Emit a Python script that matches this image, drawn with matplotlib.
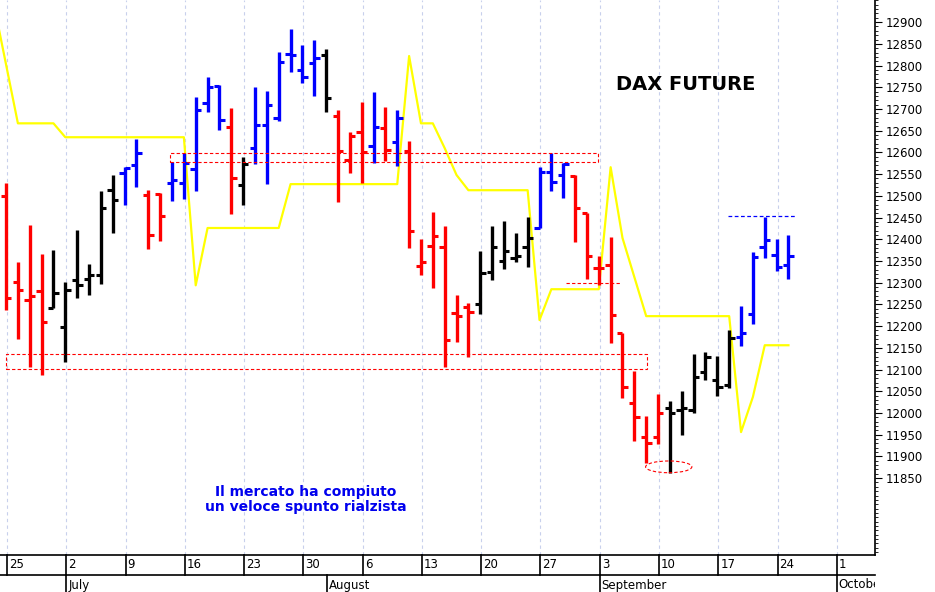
import numpy as np
import matplotlib
matplotlib.use("Agg")
import matplotlib.pyplot as plt
from matplotlib.patches import Rectangle, Ellipse
from matplotlib.transforms import Bbox

# ---------- data (trading day index 1 = 25 June) ----------
highs = [12529, 12347, 12433, 12366, 12375, 12301, 12421, 12343, 12511, 12548,
         12566, 12631, 12513, 12506, 12578, 12598, 12727, 12773, 12755, 12702,
         12589, 12750, 12741, 12831, 12884, 12847, 12859, 12838, 12697, 12647,
         12716, 12739, 12704, 12697, 12626, 12400, 12462, 12430, 12271, 12253,
         12373, 12430, 12442, 12414, 12451, 12566, 12598, 12575, 12548, 12460,
         12361, 12405, 12184, 12096, 11993, 12043, 12027, 12050, 12136, 12140,
         12131, 12191, 12246, 12370, 12451, 12400, 12410]
lows = [12237, 12170, 12106, 12087, 12241, 12117, 12264, 12271, 12297, 12414,
        12479, 12520, 12377, 12396, 12488, 12492, 12511, 12693, 12651, 12458,
        12479, 12573, 12527, 12672, 12785, 12760, 12730, 12693, 12486, 12552,
        12529, 12575, 12580, 12568, 12380, 12317, 12288, 12106, 12163, 12129,
        12228, 12306, 12331, 12347, 12336, 12426, 12511, 12495, 12393, 12308,
        12294, 12161, 12034, 11935, 11885, 11928, 11862, 11949, 12000, 12076,
        12039, 12057, 12154, 12205, 12357, 12327, 12308]
opens = [12499, 12301, 12260, 12281, 12241, 12198, 12306, 12308, 12317, 12513,
         12552, 12571, 12502, 12504, 12529, 12529, 12562, 12714, 12753, 12658,
         12525, 12610, 12663, 12679, 12826, 12790, 12806, 12824, 12684, 12582,
         12647, 12615, 12656, 12624, 12603, 12338, 12384, 12382, 12230, 12244,
         12251, 12324, 12350, 12357, 12382, 12426, 12555, 12548, 12545, 12460,
         12334, 12340, 12184, 12023, 11944, 11944, 12011, 12007, 12007, 12094,
         12076, 12064, 12175, 12228, 12382, 12364, 12340]
closes = [12264, 12283, 12269, 12209, 12276, 12283, 12294, 12317, 12472, 12490,
          12564, 12598, 12410, 12453, 12536, 12575, 12697, 12750, 12674, 12541,
          12573, 12663, 12709, 12808, 12824, 12773, 12817, 12725, 12603, 12638,
          12601, 12658, 12605, 12679, 12419, 12347, 12407, 12168, 12223, 12232,
          12322, 12382, 12373, 12361, 12403, 12555, 12532, 12573, 12472, 12361,
          12334, 12225, 12060, 11990, 11931, 12000, 12000, 12011, 12083, 12129,
          12060, 12172, 12185, 12359, 12398, 12336, 12361]
colors = (["red"] * 4 + ["black"] * 6 + ["blue"] * 2 + ["red"] * 2 + ["blue"] * 5
          + ["red"] + ["black"] + ["blue"] * 6 + ["black"] + ["red"] * 3 + ["blue"]
          + ["red"] + ["blue"] + ["red"] * 6 + ["black"] * 5 + ["blue"] * 3
          + ["red"] * 8 + ["black"] * 6 + ["blue"] * 5)

# yellow stop line
line_idx = [0, 2, 5, 6, 16, 17, 18, 24, 25, 34, 35, 36, 37, 38, 39, 40, 45, 46,
            47, 51, 52, 53, 55, 62, 63, 64, 65, 67]
line_val = [12938, 12667, 12667, 12635, 12635, 12294, 12426, 12426, 12527, 12527,
            12822, 12667, 12667, 12610, 12548, 12513, 12513, 12214, 12285, 12285,
            12566, 12403, 12223, 12223, 11956, 12037, 12156, 12156]

week_idx = [1, 6, 11, 16, 21, 26, 31, 36, 41, 46, 51, 56, 61, 66, 71]
week_labels = ["25", "2", "9", "16", "23", "30", "6", "13", "20", "27",
               "3", "10", "17", "24", "1"]
month_idx = [6, 28, 51, 71]
month_labels = ["July", "August", "September", "October"]

# ---------- plot ----------
fig = plt.figure(figsize=(9.35, 5.92), dpi=100)
ax = fig.add_axes([0, 37 / 592, 875 / 935, 555 / 592])
x0, x1 = 0.49, 74.3
ax.set_xlim(x0, x1)
ax.set_ylim(11673, 12951)

for w in week_idx:
    ax.axvline(w + 0.08, color="#c8d0ec", lw=0.8, ls=(0, (3, 3)), zorder=0)

idx = np.arange(1, len(highs) + 1)
tick = 0.45
ax.vlines(idx, lows, highs, colors=colors, lw=2.4, zorder=3)
ax.hlines(opens, idx - tick, idx, colors=colors, lw=2.2, zorder=3)
ax.hlines(closes, idx, idx + tick, colors=colors, lw=2.2, zorder=3)

ax.plot(line_idx, line_val, color="#ffff00", lw=1.6, zorder=2)

# red dashed zones
ax.add_patch(Rectangle((14.8, 12578), 36.1, 20, fill=False, ec="red",
                       ls=(0, (3, 2)), lw=0.8, zorder=4))
ax.add_patch(Rectangle((1.0, 12101), 54.1, 35, fill=False, ec="red",
                       ls=(0, (3, 2)), lw=0.8, zorder=4))
ax.plot([48.2, 52.9], [12299, 12299], color="red", ls=(0, (3, 2)), lw=0.8)
ax.plot([61.9, 67.6], [12453, 12453], color="blue", ls=(0, (3, 2)), lw=0.9)
ax.add_patch(Ellipse((56.9, 11876), 3.9, 27, fill=False, ec="red",
                     ls=(0, (3, 2)), lw=0.8, zorder=4))

ax.text(58.3, 12757, "DAX FUTURE", fontsize=14, fontweight="bold",
        ha="center", va="center")
ax.text(26.3, 11800, "Il mercato ha compiuto\nun veloce spunto rialzista",
        color="#0000ee", fontsize=10, fontweight="bold", ha="center",
        va="center", linespacing=1.1)

# right axis
ax.yaxis.tick_right()
ax.set_yticks(np.arange(11850, 12901, 50))
ax.set_yticks(np.arange(11680, 12951, 10), minor=True)
ax.tick_params(axis="y", which="major", length=5, labelsize=8.5, pad=3)
ax.tick_params(axis="y", which="minor", length=2)
ax.set_xticks([])
for s in ["left", "top", "bottom"]:
    ax.spines[s].set_visible(False)
ax.spines["right"].set_linewidth(1.2)

# date strips
def fx(i):
    return (i - x0) / (x1 - x0) * 875 / 935

strip = Bbox.from_extents(0, 0, 875, 37)
line_kw = dict(color="black", lw=1.2, transform=fig.transFigure)
fig.add_artist(plt.Line2D([0, 875 / 935], [37 / 592] * 2, **line_kw))
fig.add_artist(plt.Line2D([0, 875 / 935], [17 / 592] * 2, **line_kw))
for w, lab in zip(week_idx, week_labels):
    xf = fx(w + 0.08)
    fig.add_artist(plt.Line2D([xf, xf], [17 / 592, 37 / 592], **line_kw))
    fig.text(xf + 2 / 935, 27 / 592, lab, fontsize=8.5, va="center", ha="left")
for m, lab in zip(month_idx, month_labels):
    xf = fx(m + 0.08)
    fig.add_artist(plt.Line2D([xf, xf], [0, 17 / 592], **line_kw))
    t = fig.text(xf + 2 / 935, 7 / 592, lab, fontsize=8.5, va="center", ha="left")
    t.set_clip_box(strip)
    t.set_clip_on(True)

fig.savefig("out.png", dpi=100)
